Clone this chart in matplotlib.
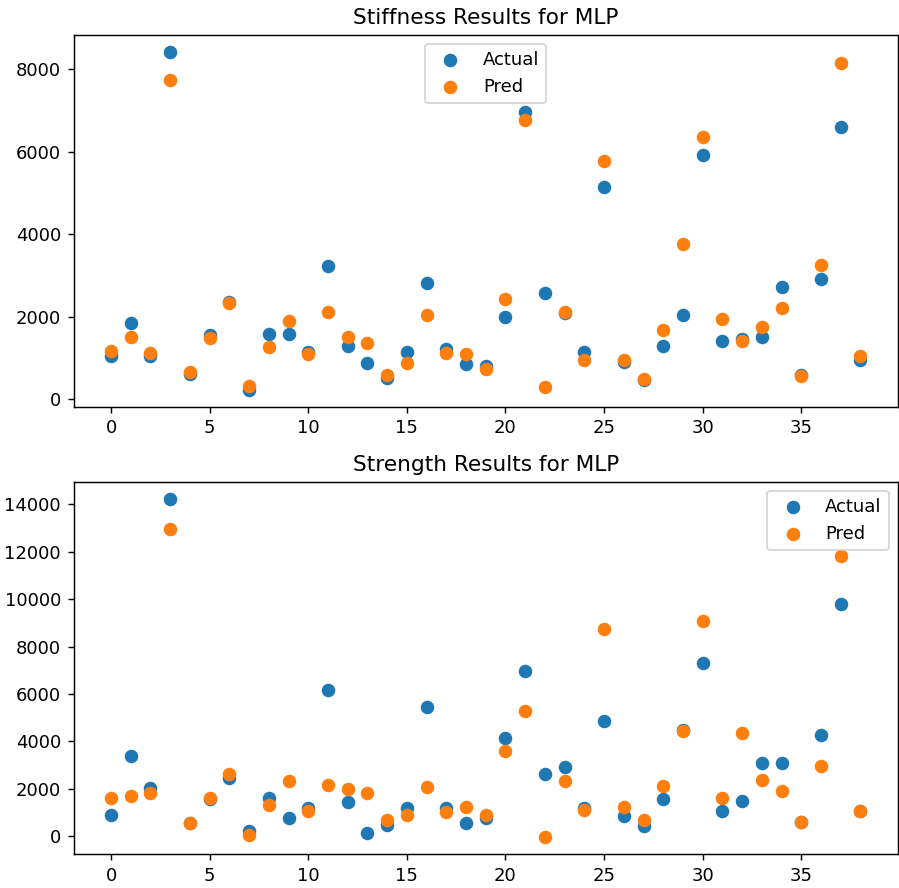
import matplotlib.pyplot as plt
import numpy as np

# sample index
idx = np.arange(39)

stiff_actual = [1034, 1840, 1034, 8435, 613, 1557, 2366, 226, 1582, 1582,
                1155, 3229, 1291, 872, 509, 1138, 2810, 1219, 848, 807,
                2002, 6968, 2584, 2099, 1138, 5151, 896, 453, 1291, 2042,
                5926, 1422, 1461, 1518, 2713, 589, 2906, 6612, 937]
stiff_pred = [1170, 1518, 1114, 7733, 654, 1494, 2325, 307, 1260, 1905,
              1098, 2123, 1518, 1356, 589, 872, 2042, 1114, 1098, 727,
              2422, 6766, 291, 2123, 937, 5772, 937, 492, 1679, 3771,
              6354, 1938, 1421, 1744, 2221, 549, 3261, 8154, 1034]

strength_actual = [886, 3377, 2040, 14239, 563, 1576, 2462, 239, 1618, 774,
                   1196, 6163, 1449, 141, 492, 1196, 5445, 1196, 563, 774,
                   4151, 6965, 2631, 2913, 1196, 4882, 844, 450, 1576, 4503,
                   7289, 1055, 1506, 3095, 3095, 605, 4263, 9807, 1055]
strength_pred = [1618, 1688, 1829, 12945, 563, 1618, 2645, 42, 1337, 2350,
                 1083, 2181, 2012, 1829, 704, 886, 2068, 1013, 1224, 886,
                 3588, 5276, -42, 2350, 1126, 8752, 1224, 704, 2139, 4432,
                 9076, 1618, 4362, 2392, 1900, 605, 2955, 11833, 1055]

dpi = 130
fig = plt.figure(figsize=(899 / dpi, 888 / dpi), dpi=dpi)
ax1 = fig.add_axes([0.0818, 0.542, 0.917, 0.419])
ax2 = fig.add_axes([0.0818, 0.038, 0.917, 0.4196])

ax1.scatter(idx, stiff_actual, s=42, label="Actual")
ax1.scatter(idx, stiff_pred, s=42, label="Pred")
ax1.set_title("Stiffness Results for MLP")
ax1.legend(loc="upper center")

ax2.scatter(idx, strength_actual, s=42, label="Actual")
ax2.scatter(idx, strength_pred, s=42, label="Pred")
ax2.set_title("Strength Results for MLP")
ax2.legend(loc="upper right")

fig.savefig("out.png", dpi=dpi)
